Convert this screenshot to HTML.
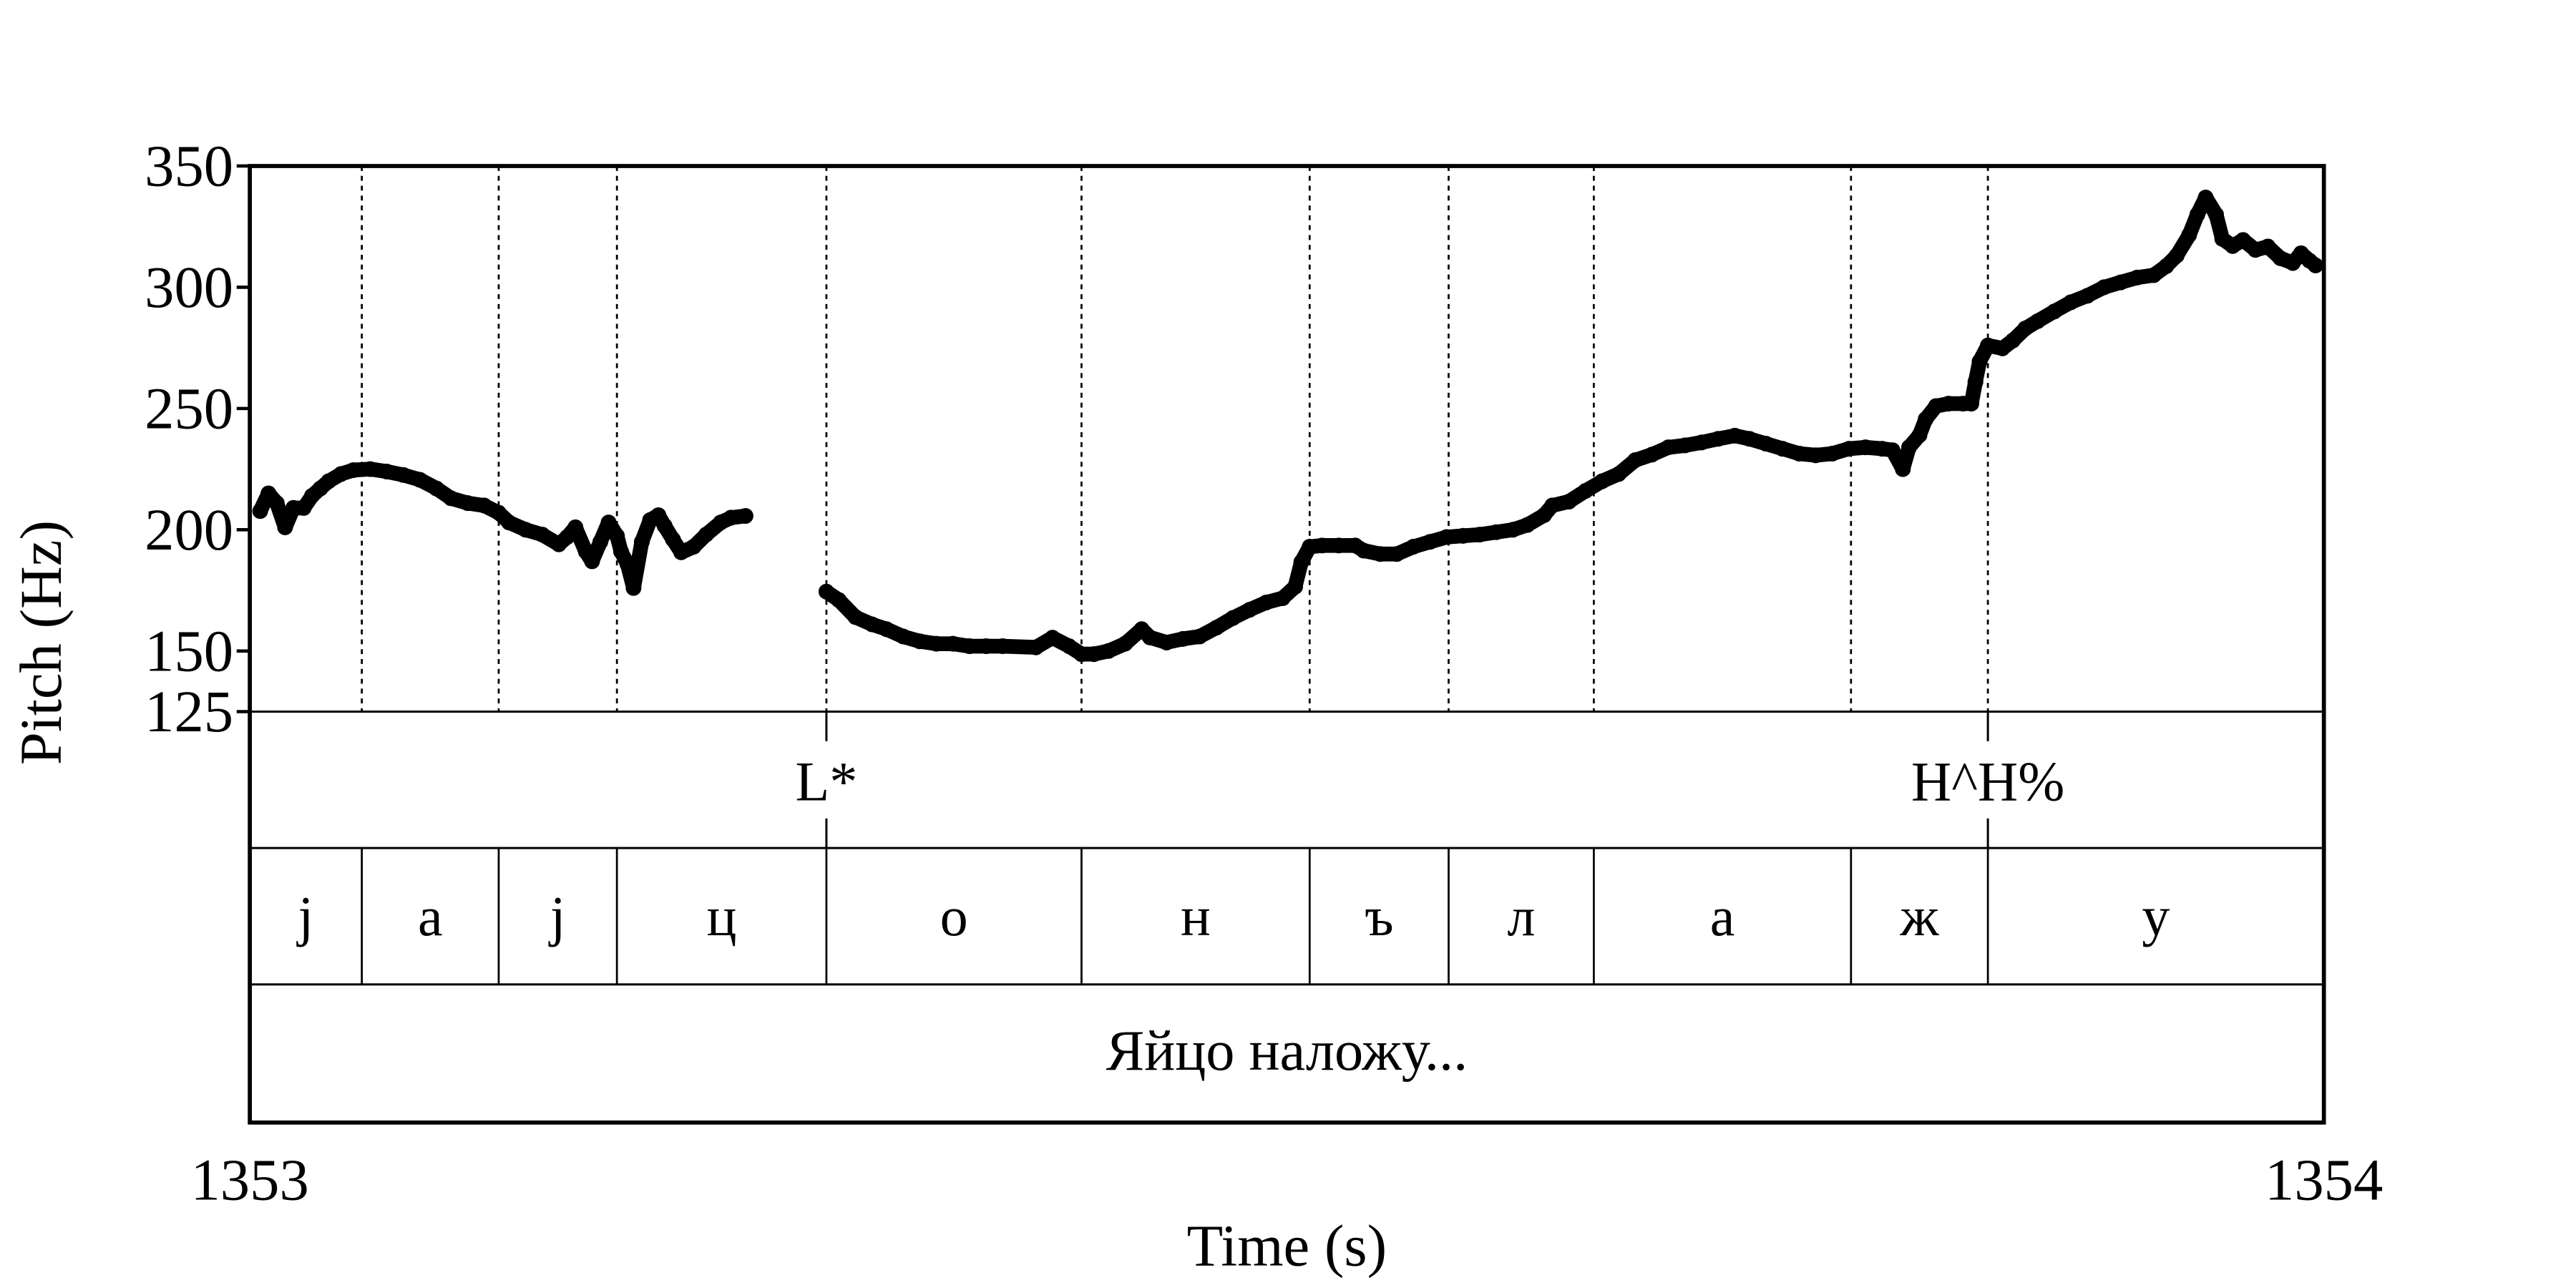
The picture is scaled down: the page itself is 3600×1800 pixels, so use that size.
<!DOCTYPE html>
<html><head><meta charset="utf-8">
<style>
html,body{margin:0;padding:0;background:#fff;}
svg{display:block;}
text{font-family:"Liberation Serif","DejaVu Serif",serif;fill:#000;}
</style></head>
<body>
<svg id="chart" width="3600" height="1800" viewBox="0 0 1567.4 783.7" xmlns="http://www.w3.org/2000/svg">
<g id="grid"></g>
<g id="pitch"></g>
<g id="frame"></g>
<g id="labels"></g>
</svg>
<script>
const NS="http://www.w3.org/2000/svg";
const yTicks=[350,300,250,200,150,125];
const xTickLabels=["1353","1354"];
const boundaries=[0.054,0.120,0.177,0.278,0.401,0.511,0.578,0.648,0.772,0.838];
const phones=["j","a","j","ц","о","н","ъ","л","а","ж","у"];
const toneTimes=[0.278,0.838];
const toneLabels=["L*","H^H%"];
const sentence="Яйцо наложу...";
const seg1T=[0.005,0.009,0.013,0.017,0.021,0.026,0.030,0.034,0.038,0.044,0.050,0.058,0.066,0.074,0.082,0.090,0.097,0.105,0.113,0.120,0.125,0.133,0.141,0.149,0.153,0.157,0.162,0.165,0.169,0.173,0.177,0.179,0.182,0.185,0.189,0.193,0.197,0.200,0.204,0.208,0.214,0.220,0.227,0.232,0.239];
const seg1F=[207.7,215,211,201,209,209,214,217,220,223,224.6,225,224,222.6,220.6,217,213,211,210,207,203,200,198,194,197,201,191,187,195,203,197.5,191,186,176,195,204,206,201.6,196,190.7,193,198,203,205,205.7];
const seg2T=[0.278,0.284,0.292,0.300,0.307,0.315,0.323,0.331,0.339,0.347,0.355,0.363,0.379,0.387,0.395,0.401,0.407,0.414,0.422,0.430,0.434,0.442,0.450,0.458,0.466,0.474,0.482,0.490,0.498,0.504,0.507,0.511,0.517,0.525,0.533,0.537,0.545,0.553,0.561,0.569,0.577,0.585,0.593,0.601,0.609,0.616,0.624,0.628,0.636,0.644,0.652,0.660,0.668,0.676,0.684,0.692,0.700,0.708,0.716,0.723,0.731,0.739,0.747,0.755,0.763,0.771,0.779,0.787,0.792,0.797,0.800,0.805,0.808,0.813,0.819,0.826,0.830,0.832,0.834,0.838,0.845,0.850,0.856,0.862,0.870,0.878,0.886,0.894,0.902,0.910,0.918,0.924,0.929,0.935,0.939,0.943,0.948,0.951,0.956,0.961,0.967,0.973,0.979,0.985,0.989,0.993,0.996];
const seg2F=[174.5,171,164,161,159,156,154,153,153,152,152,152,151.5,155.5,152,148.7,148.7,150,153,159,155.6,153.5,155,156,159.6,163.6,167,170,171.8,176.5,186.7,193,193.5,193.5,193.5,191.4,190,190,193,195,197,197.5,198,199,200,202,206,210,211.6,216,220,223,228.7,231,234,234.8,236,237.5,238.8,237.5,235.5,233.4,231.4,230.7,231.4,233.4,234,233.4,232.8,225,234,239,245.6,251,252,252,252,261,269.4,276,274.8,278,283,286,290,293.8,296.5,300,302,304,305,308.7,313,321.5,330,337,330,320,317,319.5,315.4,316.8,312,310,314,311,309];

const L=152,R=1414,T=101,B=433;
const X=t=>L+t*(R-L);
const Y=f=>T+(350-f)*(B-T)/225;
function el(tag,attrs,parent){const e=document.createElementNS(NS,tag);for(const k in attrs)e.setAttribute(k,attrs[k]);parent.appendChild(e);return e;}
const grid=document.getElementById('grid'),pitch=document.getElementById('pitch'),frame=document.getElementById('frame'),labels=document.getElementById('labels');

boundaries.forEach(b=>{
  const l=el('line',{x1:X(b),x2:X(b),y1:T,y2:B,stroke:'#000','stroke-width':1.2,'stroke-dasharray':'3,3'},grid);
  
  
  const l2=el('line',{x1:X(b),x2:X(b),y1:516,y2:599,stroke:'#000','stroke-width':1.2},frame);
  
  
});

[[seg1T,seg1F],[seg2T,seg2F]].forEach(([ts,fs])=>{
  const pts=ts.map((t,i)=>X(t).toFixed(1)+','+Y(fs[i]).toFixed(1)).join(' ');
  const pl=el('polyline',{points:pts,fill:'none',stroke:'#000','stroke-width':9,'stroke-linejoin':'round','stroke-linecap':'round'},pitch);
  
  
  ts.forEach((t,i)=>{
    const c=el('circle',{cx:X(t),cy:Y(fs[i]),r:4.8,fill:'#000'},pitch);
    
    
  });
});

const rect=el('path',{d:`M${L},${T} H${R} V683 H${L} Z`,fill:'none',stroke:'#000','stroke-width':2.5},frame);


[433,516,599].forEach(y=>{
  const l=el('line',{x1:L,x2:R,y1:y,y2:y,stroke:'#000','stroke-width':1.3},frame);
  
  
});
yTicks.forEach(v=>{
  const l=el('line',{x1:L-8,x2:L,y1:Y(v),y2:Y(v),stroke:'#000','stroke-width':2},frame);
  
  
  const t=el('text',{x:L-10,y:Y(v)+12,'text-anchor':'end','font-size':36},labels);
  t.textContent=v;
  
  
});
toneTimes.forEach((tt,i)=>{
  const a=el('line',{x1:X(tt),x2:X(tt),y1:433,y2:451,stroke:'#000','stroke-width':1.3},frame);
  
  
  const b=el('line',{x1:X(tt),x2:X(tt),y1:498,y2:516,stroke:'#000','stroke-width':1.3},frame);
  
  
  const t=el('text',{x:X(tt),y:487,'text-anchor':'middle','font-size':34},labels);
  t.textContent=toneLabels[i];
  
  
});
const edges=[0,...boundaries,1];
phones.forEach((p,i)=>{
  const t=el('text',{x:(X(edges[i])+X(edges[i+1]))/2,y:569,'text-anchor':'middle','font-size':34},labels);
  t.textContent=p;
  
  
});
const st=el('text',{x:(L+R)/2,y:651,'text-anchor':'middle','font-size':35},labels);
st.textContent=sentence;


[0,1].forEach((t,i)=>{
  const tx=el('text',{x:X(t),y:730,'text-anchor':'middle','font-size':36},labels);
  tx.textContent=xTickLabels[i];
  
  
});
const xt=el('text',{x:783,y:770,'text-anchor':'middle','font-size':36},labels);
xt.textContent="Time (s)";


const yt=el('text',{x:0,y:0,'text-anchor':'middle','font-size':36,transform:'translate(37,391) rotate(-90)'},labels);
yt.textContent="Pitch (Hz)";


</script>
</body></html>
